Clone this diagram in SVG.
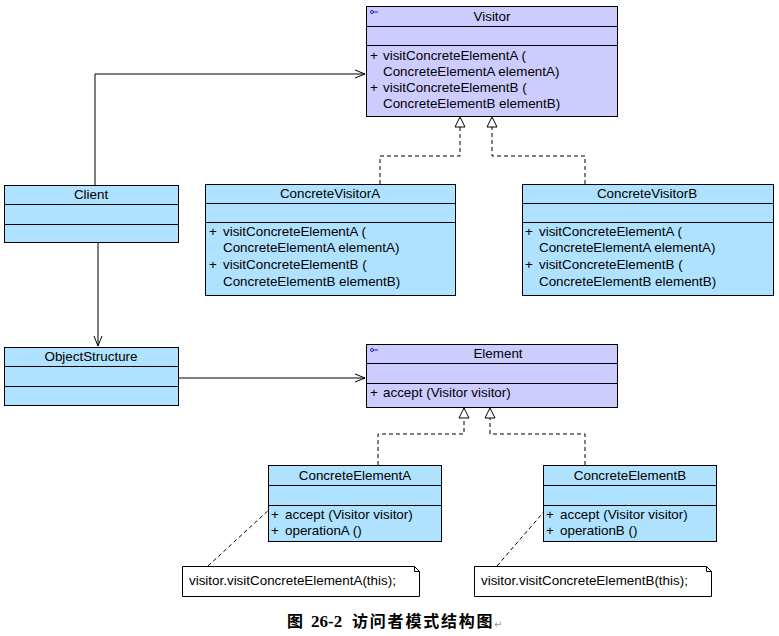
<svg xmlns="http://www.w3.org/2000/svg" width="779" height="636" viewBox="0 0 779 636">
<style>
.t{font-family:"Liberation Sans",Arial,sans-serif;font-size:13.4px;fill:#000}
.c{text-anchor:middle}
.box{stroke:#000;stroke-width:1}
.iface{fill:#ccccfe}
.cls{fill:#afe2fe}
.ln{fill:none;stroke:#000;stroke-width:1}
.dash{fill:none;stroke:#000;stroke-width:1;stroke-dasharray:4,3}
.note{fill:#fff;stroke:#000;stroke-width:1}
.cap{font-family:"Noto Sans CJK SC","Noto Serif CJK SC",serif;font-size:16px;font-weight:bold;fill:#000}
</style>
<defs>
<marker id="open" markerWidth="12" markerHeight="10" refX="11" refY="5" orient="auto" markerUnits="userSpaceOnUse">
<path d="M1,1 L11,5 L1,9" fill="none" stroke="#000" stroke-width="1"/>
</marker>
<marker id="tri" markerWidth="12" markerHeight="12" refX="11" refY="6" orient="auto" markerUnits="userSpaceOnUse">
<path d="M1,1 L11,6 L1,11 Z" fill="#fff" stroke="#000" stroke-width="1"/>
</marker>
</defs>
<rect width="779" height="636" fill="#fff"/>

<g id="connectors">
<polyline class="ln" points="95,185 95,74 365,74" marker-end="url(#open)"/>
<polyline class="ln" points="98,242 98,346" marker-end="url(#open)"/>
<polyline class="ln" points="178,378 365,378" marker-end="url(#open)"/>
<polyline class="dash" points="380,184 380,156 460,156 460,117" marker-end="url(#tri)"/>
<polyline class="dash" points="585,184 585,156 492,156 492,117" marker-end="url(#tri)"/>
<polyline class="dash" points="378,465 378,434 464,434 464,408" marker-end="url(#tri)"/>
<polyline class="dash" points="585,465 585,434 490,434 490,408" marker-end="url(#tri)"/>
<line class="dash" x1="208" y1="566" x2="272" y2="507"/>
<line class="dash" x1="497" y1="566" x2="548" y2="507"/>
</g>

<g id="Visitor">
<rect class="box iface" x="366.5" y="6.5" width="251" height="110"/>
<line class="ln" x1="366.5" y1="26.5" x2="617.5" y2="26.5"/>
<line class="ln" x1="366.5" y1="45.5" x2="617.5" y2="45.5"/>
<circle cx="372" cy="12" r="1.5" fill="none" stroke="#2020d0" stroke-width="1"/>
<line x1="373.5" y1="12" x2="378" y2="12" stroke="#2020d0" stroke-width="1"/>
<text class="t c" x="492" y="21">Visitor</text>
<text class="t" x="370" y="60">+</text>
<text class="t" x="383" y="60">visitConcreteElementA (</text>
<text class="t" x="383" y="76">ConcreteElementA elementA)</text>
<text class="t" x="370" y="92">+</text>
<text class="t" x="383" y="92">visitConcreteElementB (</text>
<text class="t" x="383" y="108">ConcreteElementB elementB)</text>
</g>

<g id="Client">
<rect class="box cls" x="4.5" y="185.5" width="174" height="57"/>
<line class="ln" x1="4.5" y1="204.5" x2="178.5" y2="204.5"/>
<line class="ln" x1="4.5" y1="224.5" x2="178.5" y2="224.5"/>
<text class="t c" x="91" y="199">Client</text>
</g>

<g id="ConcreteVisitorA">
<rect class="box cls" x="205.5" y="184.5" width="250" height="111"/>
<line class="ln" x1="205.5" y1="203.5" x2="455.5" y2="203.5"/>
<line class="ln" x1="205.5" y1="222.5" x2="455.5" y2="222.5"/>
<text class="t c" x="330" y="198">ConcreteVisitorA</text>
<text class="t" x="209" y="236">+</text>
<text class="t" x="223" y="236">visitConcreteElementA (</text>
<text class="t" x="223" y="252">ConcreteElementA elementA)</text>
<text class="t" x="209" y="269">+</text>
<text class="t" x="223" y="269">visitConcreteElementB (</text>
<text class="t" x="223" y="286">ConcreteElementB elementB)</text>
</g>

<g id="ConcreteVisitorB">
<rect class="box cls" x="522.5" y="184.5" width="251" height="111"/>
<line class="ln" x1="522.5" y1="203.5" x2="773.5" y2="203.5"/>
<line class="ln" x1="522.5" y1="222.5" x2="773.5" y2="222.5"/>
<text class="t c" x="647" y="198">ConcreteVisitorB</text>
<text class="t" x="525" y="236">+</text>
<text class="t" x="539" y="236">visitConcreteElementA (</text>
<text class="t" x="539" y="252">ConcreteElementA elementA)</text>
<text class="t" x="525" y="269">+</text>
<text class="t" x="539" y="269">visitConcreteElementB (</text>
<text class="t" x="539" y="286">ConcreteElementB elementB)</text>
</g>

<g id="ObjectStructure">
<rect class="box cls" x="4.5" y="347.5" width="174" height="58"/>
<line class="ln" x1="4.5" y1="366.5" x2="178.5" y2="366.5"/>
<line class="ln" x1="4.5" y1="386.5" x2="178.5" y2="386.5"/>
<text class="t c" x="91" y="361">ObjectStructure</text>
</g>

<g id="Element">
<rect class="box iface" x="366.5" y="344.5" width="251" height="63"/>
<line class="ln" x1="366.5" y1="363.5" x2="617.5" y2="363.5"/>
<line class="ln" x1="366.5" y1="383.5" x2="617.5" y2="383.5"/>
<circle cx="372" cy="350" r="1.5" fill="none" stroke="#2020d0" stroke-width="1"/>
<line x1="373.5" y1="350" x2="378" y2="350" stroke="#2020d0" stroke-width="1"/>
<text class="t c" x="498" y="358">Element</text>
<text class="t" x="370" y="397">+</text>
<text class="t" x="383" y="397">accept (Visitor visitor)</text>
</g>

<g id="ConcreteElementA">
<rect class="box cls" x="268.5" y="465.5" width="173" height="76"/>
<line class="ln" x1="268.5" y1="485.5" x2="441.5" y2="485.5"/>
<line class="ln" x1="268.5" y1="505.5" x2="441.5" y2="505.5"/>
<text class="t c" x="355" y="480">ConcreteElementA</text>
<text class="t" x="271" y="519">+</text>
<text class="t" x="285" y="519">accept (Visitor visitor)</text>
<text class="t" x="271" y="535">+</text>
<text class="t" x="285" y="535">operationA ()</text>
</g>

<g id="ConcreteElementB">
<rect class="box cls" x="543.5" y="465.5" width="173" height="76"/>
<line class="ln" x1="543.5" y1="485.5" x2="716.5" y2="485.5"/>
<line class="ln" x1="543.5" y1="505.5" x2="716.5" y2="505.5"/>
<text class="t c" x="630" y="480">ConcreteElementB</text>
<text class="t" x="546" y="519">+</text>
<text class="t" x="560" y="519">accept (Visitor visitor)</text>
<text class="t" x="546" y="535">+</text>
<text class="t" x="560" y="535">operationB ()</text>
</g>

<g id="NoteA">
<path class="note" d="M182.5,566.5 L414.5,566.5 L419.5,571.5 L419.5,596.5 L182.5,596.5 Z"/>
<path class="ln" d="M414.5,566.5 L414.5,571.5 L419.5,571.5"/>
<text class="t" x="189" y="585">visitor.visitConcreteElementA(this);</text>
</g>

<g id="NoteB">
<path class="note" d="M474.5,566.5 L706.5,566.5 L711.5,571.5 L711.5,596.5 L474.5,596.5 Z"/>
<path class="ln" d="M706.5,566.5 L706.5,571.5 L711.5,571.5"/>
<text class="t" x="481" y="585">visitor.visitConcreteElementB(this);</text>
</g>

<g id="caption">
<text class="cap" x="287" y="627">图</text>
<text x="311" y="627" style="font-family:'Liberation Serif',serif;font-size:17px;font-weight:bold">26-2</text>
<text class="cap" x="352" y="627" letter-spacing="1.8">访问者模式结构图</text>
<text x="494" y="628" style="font-family:'DejaVu Sans',sans-serif;font-size:10px;fill:#999">↵</text>
</g>
</svg>
